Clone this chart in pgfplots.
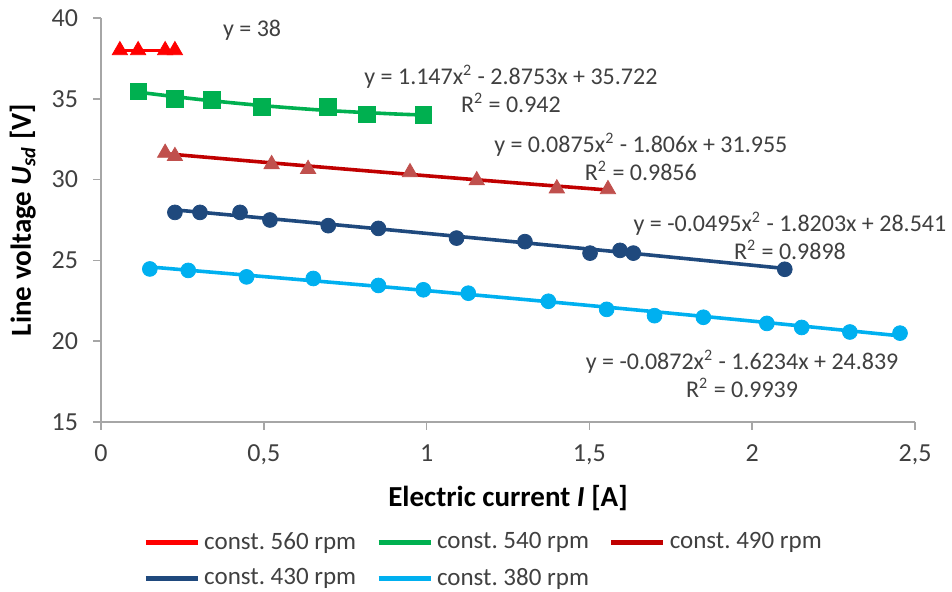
\documentclass[border=0pt]{standalone}
\usepackage{fontspec}
\setmainfont{Carlito}
\usepackage{pgfplots}
\pgfplotsset{compat=1.18}
\definecolor{cA}{HTML}{FF0000}
\definecolor{cB}{HTML}{00B050}
\definecolor{cC}{HTML}{C00000}
\definecolor{cCm}{HTML}{C0504D}
\definecolor{cD}{HTML}{1F497D}
\definecolor{cE}{HTML}{00B0F0}
\definecolor{axgray}{HTML}{A6A6A6}
\definecolor{txt}{HTML}{404040}

\begin{document}
\frenchspacing
\begin{tikzpicture}
\begin{axis}[scale only axis, width=407pt, height=202pt,
  xmin=0, xmax=2.5, ymin=15, ymax=40,
  xtick={0,0.5,1,1.5,2,2.5}, ytick={15,20,25,30,35,40},
  axis lines=left, axis line style={-, axgray, line width=0.8pt},
  tick style={axgray, line width=0.8pt}, tick align=outside, major tick length=4pt,
  /pgf/number format/assume math mode=true,
  xticklabel style={/pgf/number format/use comma, yshift=-4pt},
  yticklabel style={xshift=-4pt},
  ticklabel style={font=\fontsize{13}{15}\selectfont, text=txt},
  xlabel={\textbf{Electric current \textit{I} [A]}},
  ylabel={\textbf{Line voltage \textit{U}\textsubscript{\textit{sd}} [V]}},
  label style={font=\fontsize{14.5}{16}\selectfont, text=black},
  xlabel style={at={(axis description cs:0.5,-0.188)}, anchor=center},
  ylabel style={at={(axis description cs:-0.096,0.5)}, anchor=center},
  legend style={at={(axis description cs:0.0516,-0.262)}, anchor=north west,
    draw=none, fill=none, font=\fontsize{12.5}{14}\selectfont, text=txt,
    legend columns=3, row sep=4pt, inner sep=0pt,
    /tikz/every odd column/.append style={column sep=0pt},
    /tikz/every even column/.append style={column sep=8pt}},
  legend cell align=left,
  legend image code/.code={\draw[line width=2.4pt] (0pt,0pt) -- (26pt,0pt);},
  clip=false]

% 560 rpm
\addplot[cA, line width=1.8pt] coordinates {(0.05,38)(0.23,38)};
\addlegendentry{const. 560 rpm}
% 540 rpm
\addplot[cB, line width=1.8pt, smooth] coordinates {(0.11,35.42)(0.3,34.963)(0.5,34.571)(0.7,34.271)(0.9,34.063)(0.99,34.0)};
\addlegendentry{const. 540 rpm}
% 490 rpm
\addplot[cC, line width=1.8pt, smooth] coordinates {(0.2,31.597)(0.6,30.903)(1.0,30.237)(1.3,29.755)(1.55,29.366)};
\addlegendentry{const. 490 rpm}
% 430 rpm
\addplot[cD, line width=1.8pt, smooth] coordinates {(0.23,28.12)(0.7,27.243)(1.2,26.285)(1.6,25.502)(2.1,24.5)};
\addlegendentry{const. 430 rpm}
% 380 rpm
\addplot[cE, line width=1.8pt, smooth] coordinates {(0.15,24.594)(0.8,23.484)(1.1,22.948)(1.5,22.208)(2.0,21.243)(2.45,20.338)};
\addlegendentry{const. 380 rpm}

% measured points
\addplot[only marks, mark=triangle*, mark size=4.4pt, cA, forget plot]
  coordinates {(0.058,38)(0.114,38)(0.197,38)(0.227,38)};
\addplot[only marks, mark=square*, mark size=4.1pt, cB, forget plot]
  coordinates {(0.114,35.45)(0.227,35.0)(0.341,34.93)(0.494,34.5)(0.697,34.5)(0.817,34.04)(0.99,34.0)};
\addplot[only marks, mark=triangle*, mark size=4.4pt, cCm, forget plot]
  coordinates {(0.197,31.65)(0.227,31.45)(0.524,30.95)(0.636,30.65)(0.949,30.45)(1.154,29.95)(1.40,29.45)(1.557,29.4)};
\addplot[only marks, mark=*, mark size=3.7pt, cD, forget plot]
  coordinates {(0.227,27.97)(0.304,27.97)(0.427,27.97)(0.519,27.5)(0.698,27.15)(0.852,26.98)(1.092,26.38)(1.302,26.16)(1.502,25.45)(1.594,25.62)(1.635,25.45)(2.10,24.45)};
\addplot[only marks, mark=*, mark size=3.7pt, cE, forget plot]
  coordinates {(0.150,24.47)(0.268,24.38)(0.447,23.98)(0.652,23.88)(0.852,23.45)(0.99,23.18)(1.128,22.97)(1.374,22.47)(1.553,21.97)(1.70,21.58)(1.85,21.48)(2.045,21.1)(2.152,20.85)(2.30,20.57)(2.454,20.5)};

% trendline labels
\begin{scope}[every node/.style={font=\fontsize{12}{14}\selectfont, text=txt, align=center}]
\node at (axis cs:0.464,39.26) {y = 38};
\node at (axis cs:1.259,35.61) {y = 1.147x\textsuperscript{2} - 2.8753x + 35.722\\R\textsuperscript{2} = 0.942};
\node at (axis cs:1.658,31.40) {y = 0.0875x\textsuperscript{2} - 1.806x + 31.955\\R\textsuperscript{2} = 0.9856};
\node at (axis cs:2.116,26.51) {y = -0.0495x\textsuperscript{2} - 1.8203x + 28.541\\R\textsuperscript{2} = 0.9898};
\node at (axis cs:1.969,17.97) {y = -0.0872x\textsuperscript{2} - 1.6234x + 24.839\\R\textsuperscript{2} = 0.9939};
\end{scope}
\end{axis}
\pgfresetboundingbox
\path[use as bounding box] ([shift={(-50.5pt,-85pt)}]current axis.south west) rectangle ([shift={(18.5pt,9pt)}]current axis.north east);
\end{tikzpicture}
\end{document}
